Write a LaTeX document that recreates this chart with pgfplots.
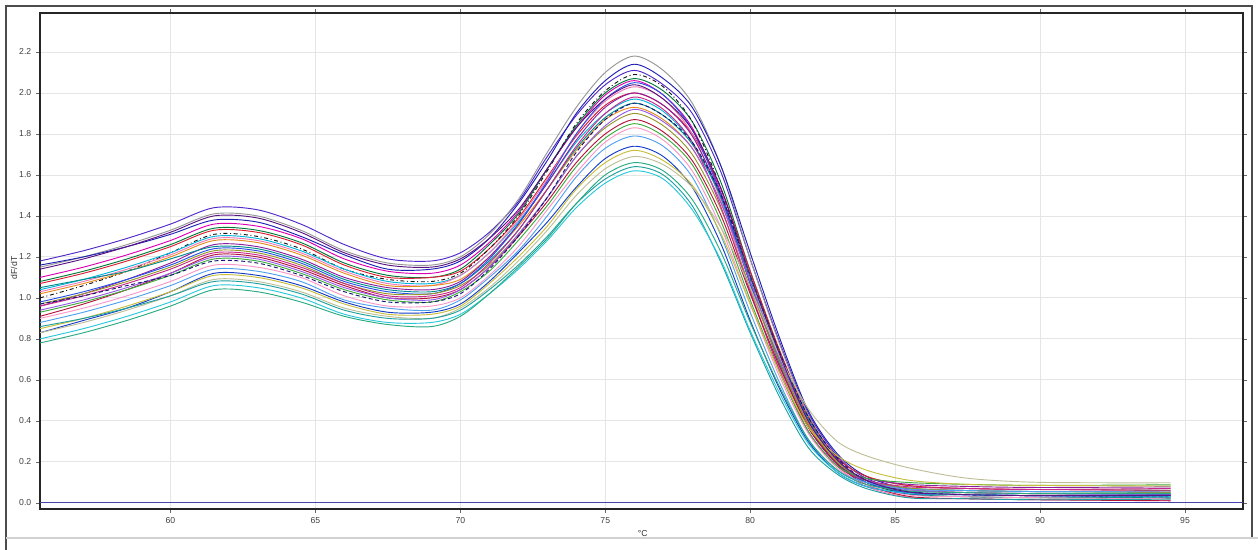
\documentclass[border=0pt]{standalone}
\usepackage{fontspec}
\setmainfont{Liberation Sans}
\usepackage{pgfplots}
\pgfplotsset{compat=1.18}
\usepackage{pgfplotstable}

\pgfplotstableread{
x c1 c2 c3 c4 c5 c6 c7 c8 c9 c10 c11 c12 c13 c14 c15 c16 c17 c18 c19 c20 c21 c22 c23 c24 c25 c26 c27 c28
55.5 1.18 1.15 1.16 1.10 1.08 1.07 1.00 1.04 1.03 1.02 0.96 1.05 0.98 0.97 0.96 0.91 0.94 0.93 0.97 0.90 0.88 0.83 0.85 0.83 0.86 0.80 0.78 1.14
57 1.23 1.20 1.20 1.15 1.13 1.12 1.06 1.09 1.08 1.07 1.02 1.09 1.03 1.02 1.01 0.97 0.99 0.98 1.01 0.95 0.93 0.89 0.90 0.88 0.90 0.85 0.83 1.19
58.5 1.29 1.26 1.25 1.21 1.19 1.18 1.13 1.15 1.14 1.13 1.09 1.13 1.09 1.08 1.07 1.04 1.05 1.04 1.06 1.01 0.99 0.95 0.96 0.94 0.95 0.91 0.89 1.25
60 1.36 1.33 1.31 1.28 1.26 1.25 1.22 1.22 1.21 1.20 1.17 1.19 1.16 1.15 1.14 1.12 1.12 1.11 1.11 1.08 1.06 1.03 1.03 1.01 1.01 0.98 0.96 1.32
61.5 1.44 1.41 1.38 1.36 1.34 1.33 1.31 1.30 1.29 1.28 1.26 1.25 1.24 1.23 1.22 1.21 1.20 1.19 1.18 1.16 1.14 1.12 1.11 1.09 1.08 1.06 1.04 1.40
63 1.43 1.40 1.37 1.35 1.33 1.32 1.30 1.29 1.28 1.27 1.25 1.24 1.23 1.22 1.21 1.20 1.19 1.18 1.17 1.15 1.13 1.11 1.10 1.08 1.07 1.05 1.03 1.39
64.5 1.36 1.33 1.30 1.29 1.27 1.26 1.24 1.23 1.22 1.21 1.19 1.18 1.17 1.16 1.15 1.14 1.13 1.12 1.11 1.10 1.08 1.06 1.05 1.03 1.02 1.00 0.98 1.32
66 1.26 1.23 1.21 1.19 1.17 1.16 1.14 1.14 1.13 1.12 1.10 1.09 1.08 1.07 1.07 1.06 1.05 1.04 1.03 1.01 0.99 0.98 0.97 0.95 0.94 0.92 0.91 1.22
67.5 1.19 1.17 1.14 1.13 1.11 1.10 1.09 1.08 1.07 1.06 1.05 1.04 1.03 1.02 1.01 1.00 1.00 0.99 0.98 0.96 0.95 0.93 0.92 0.91 0.90 0.88 0.87 1.16
69 1.18 1.16 1.14 1.12 1.10 1.10 1.08 1.07 1.06 1.06 1.04 1.03 1.02 1.02 1.01 1.00 0.99 0.98 0.98 0.96 0.94 0.93 0.92 0.90 0.90 0.88 0.86 1.15
70 1.22 1.20 1.18 1.16 1.14 1.13 1.12 1.11 1.11 1.09 1.08 1.07 1.07 1.06 1.05 1.04 1.04 1.03 1.02 1.00 0.99 0.97 0.96 0.95 0.94 0.92 0.91 1.19
71 1.32 1.31 1.29 1.27 1.26 1.24 1.24 1.22 1.22 1.20 1.20 1.18 1.19 1.16 1.17 1.15 1.15 1.13 1.14 1.11 1.10 1.08 1.07 1.05 1.04 1.02 1.02 1.29
72 1.47 1.48 1.46 1.42 1.41 1.39 1.40 1.37 1.38 1.35 1.36 1.33 1.36 1.31 1.33 1.30 1.31 1.28 1.30 1.25 1.23 1.22 1.20 1.18 1.16 1.14 1.15 1.43
73 1.69 1.71 1.67 1.63 1.63 1.59 1.62 1.56 1.58 1.53 1.56 1.53 1.57 1.49 1.53 1.47 1.49 1.45 1.49 1.43 1.40 1.37 1.35 1.33 1.30 1.28 1.29 1.63
74 1.89 1.93 1.90 1.83 1.84 1.79 1.85 1.76 1.80 1.72 1.77 1.73 1.80 1.69 1.74 1.66 1.69 1.64 1.71 1.61 1.59 1.54 1.53 1.50 1.46 1.44 1.46 1.83
75 2.04 2.10 2.06 1.99 2.00 1.94 2.01 1.90 1.96 1.87 1.93 1.88 1.97 1.83 1.90 1.80 1.84 1.78 1.87 1.76 1.73 1.68 1.66 1.63 1.58 1.56 1.60 1.97
76 2.11 2.18 2.14 2.06 2.07 2.00 2.09 1.97 2.03 1.93 2.00 1.95 2.05 1.90 1.98 1.87 1.92 1.85 1.95 1.83 1.79 1.74 1.72 1.69 1.64 1.62 1.66 2.04
77 2.04 2.11 2.07 1.99 2.01 1.94 2.03 1.91 1.97 1.87 1.94 1.89 1.99 1.84 1.92 1.81 1.86 1.79 1.89 1.77 1.74 1.69 1.67 1.65 1.60 1.58 1.62 1.97
78 1.90 1.95 1.93 1.83 1.86 1.80 1.86 1.76 1.80 1.73 1.79 1.75 1.82 1.70 1.76 1.67 1.73 1.65 1.76 1.62 1.59 1.54 1.55 1.54 1.45 1.43 1.48 1.82
79 1.61 1.64 1.64 1.51 1.56 1.53 1.53 1.48 1.47 1.46 1.49 1.49 1.50 1.43 1.44 1.40 1.46 1.37 1.50 1.34 1.30 1.26 1.31 1.34 1.17 1.18 1.22 1.53
80 1.19 1.19 1.22 1.08 1.13 1.13 1.09 1.07 1.04 1.08 1.07 1.10 1.07 1.05 1.03 1.02 1.08 0.99 1.11 0.97 0.93 0.89 0.97 1.05 0.83 0.84 0.88 1.11
81 0.79 0.78 0.81 0.69 0.74 0.75 0.69 0.70 0.66 0.71 0.69 0.73 0.68 0.69 0.65 0.67 0.71 0.64 0.74 0.62 0.59 0.56 0.64 0.72 0.52 0.54 0.57 0.73
82 0.44 0.43 0.45 0.37 0.40 0.42 0.37 0.38 0.35 0.39 0.38 0.41 0.37 0.38 0.35 0.37 0.40 0.35 0.42 0.34 0.31 0.30 0.37 0.46 0.27 0.29 0.31 0.40
83 0.23 0.22 0.24 0.19 0.21 0.22 0.19 0.20 0.18 0.20 0.19 0.21 0.19 0.20 0.18 0.19 0.21 0.18 0.22 0.17 0.16 0.15 0.23 0.30 0.14 0.15 0.16 0.21
84 0.12 0.13 0.13 0.11 0.10 0.13 0.10 0.11 0.08 0.11 0.12 0.11 0.10 0.11 0.11 0.09 0.11 0.12 0.11 0.09 0.10 0.08 0.16 0.23 0.07 0.08 0.09 0.11
85.5 0.055 0.083 0.066 0.069 0.042 0.084 0.048 0.071 0.027 0.063 0.090 0.044 0.049 0.072 0.078 0.031 0.063 0.099 0.055 0.038 0.066 0.045 0.110 0.170 0.024 0.046 0.057 0.052
87.5 0.040 0.070 0.050 0.060 0.030 0.070 0.040 0.060 0.020 0.050 0.080 0.030 0.040 0.060 0.070 0.020 0.050 0.090 0.040 0.030 0.060 0.040 0.090 0.120 0.020 0.040 0.050 0.040
90 0.035 0.065 0.045 0.055 0.025 0.065 0.035 0.055 0.015 0.045 0.075 0.025 0.035 0.055 0.065 0.015 0.045 0.085 0.035 0.025 0.055 0.035 0.085 0.100 0.015 0.035 0.045 0.035
94.5 0.030 0.068 0.042 0.058 0.022 0.060 0.038 0.050 0.012 0.048 0.078 0.028 0.032 0.052 0.070 0.010 0.040 0.088 0.030 0.020 0.058 0.038 0.082 0.098 0.018 0.032 0.045 0.036
}\meltdata

\definecolor{k1}{RGB}{80,40,200}
\definecolor{k2}{RGB}{150,150,150}
\definecolor{k3}{RGB}{30,30,180}
\definecolor{k4}{RGB}{220,0,180}
\definecolor{k5}{RGB}{0,120,60}
\definecolor{k6}{RGB}{220,30,50}
\definecolor{k7}{RGB}{20,20,20}
\definecolor{k8}{RGB}{0,180,220}
\definecolor{k9}{RGB}{240,120,180}
\definecolor{k10}{RGB}{230,140,30}
\definecolor{k11}{RGB}{140,30,160}
\definecolor{k12}{RGB}{0,140,140}
\definecolor{k13}{RGB}{40,80,230}
\definecolor{k14}{RGB}{150,150,40}
\definecolor{k15}{RGB}{200,40,140}
\definecolor{k16}{RGB}{180,20,60}
\definecolor{k17}{RGB}{150,90,230}
\definecolor{k18}{RGB}{60,170,60}
\definecolor{k19}{RGB}{20,20,120}
\definecolor{k20}{RGB}{250,150,200}
\definecolor{k21}{RGB}{80,160,240}
\definecolor{k22}{RGB}{20,60,200}
\definecolor{k23}{RGB}{200,190,60}
\definecolor{k24}{RGB}{190,190,150}
\definecolor{k25}{RGB}{30,160,160}
\definecolor{k26}{RGB}{40,200,220}
\definecolor{k27}{RGB}{40,170,130}
\definecolor{k28}{RGB}{90,20,130}
\definecolor{zeroline}{RGB}{70,70,170}

\begin{document}
\begin{tikzpicture}[x=1pt,y=1pt]
\path[use as bounding box] (-30,-30.75) rectangle (913.5,381.75);
\draw[black!70, line width=0.8pt] (-25.5,-30.75) -- (-25.5,377.25) -- (909,377.25) -- (909,-21.75);
\draw[black!18, line width=1.2pt] (-25.5,-21.75) -- (913.5,-21.75);
\begin{axis}[
  at={(0,0)}, anchor=south west,
  scale only axis, width=902.25pt, height=372pt,
  xmin=55.5, xmax=97, ymin=-0.03, ymax=2.39,
  xtick={60,65,70,75,80,85,90,95},
  ytick={0,0.2,0.4,0.6,0.8,1.0,1.2,1.4,1.6,1.8,2.0,2.2},
  /pgf/number format/assume math mode=true,
  yticklabel style={/pgf/number format/.cd, fixed, fixed zerofill, precision=1},
  tick label style={font=\fontsize{6.5}{7}\selectfont, text=black!75},
  tick align=outside, major tick length=3pt,
  tick style={black!60, line width=0.5pt},
  grid=major, grid style={black!10, line width=0.6pt},
  axis line style={black!85, line width=1.2pt},
  xlabel={°C}, ylabel={dF/dT},
  xlabel style={font=\fontsize{6.5}{7}\selectfont, text=black!80, at={(axis description cs:0.501,-0.05)}, anchor=center},
  ylabel style={font=\fontsize{6.5}{7}\selectfont, text=black!80, at={(axis description cs:-0.0216,0.486)}, anchor=center},
  every axis plot/.append style={line width=0.7pt, smooth},
]
\addplot[color=k1] table[x=x,y=c1]{\meltdata};
\addplot[color=k2] table[x=x,y=c2]{\meltdata};
\addplot[color=k3] table[x=x,y=c3]{\meltdata};
\addplot[color=k4] table[x=x,y=c4]{\meltdata};
\addplot[color=k5] table[x=x,y=c5]{\meltdata};
\addplot[color=k6] table[x=x,y=c6]{\meltdata};
\addplot[color=k7, dash dot] table[x=x,y=c7]{\meltdata};
\addplot[color=k8] table[x=x,y=c8]{\meltdata};
\addplot[color=k9] table[x=x,y=c9]{\meltdata};
\addplot[color=k10] table[x=x,y=c10]{\meltdata};
\addplot[color=k11] table[x=x,y=c11]{\meltdata};
\addplot[color=k12] table[x=x,y=c12]{\meltdata};
\addplot[color=k13] table[x=x,y=c13]{\meltdata};
\addplot[color=k14] table[x=x,y=c14]{\meltdata};
\addplot[color=k15] table[x=x,y=c15]{\meltdata};
\addplot[color=k16] table[x=x,y=c16]{\meltdata};
\addplot[color=k17] table[x=x,y=c17]{\meltdata};
\addplot[color=k18] table[x=x,y=c18]{\meltdata};
\addplot[color=k19, densely dashed] table[x=x,y=c19]{\meltdata};
\addplot[color=k20] table[x=x,y=c20]{\meltdata};
\addplot[color=k21] table[x=x,y=c21]{\meltdata};
\addplot[color=k22] table[x=x,y=c22]{\meltdata};
\addplot[color=k23] table[x=x,y=c23]{\meltdata};
\addplot[color=k24] table[x=x,y=c24]{\meltdata};
\addplot[color=k25] table[x=x,y=c25]{\meltdata};
\addplot[color=k26] table[x=x,y=c26]{\meltdata};
\addplot[color=k27] table[x=x,y=c27]{\meltdata};
\addplot[color=k28] table[x=x,y=c28]{\meltdata};
\addplot[color=zeroline, line width=0.8pt, sharp plot] coordinates {(55.5,0) (97,0)};
\end{axis}
\end{tikzpicture}
\end{document}
